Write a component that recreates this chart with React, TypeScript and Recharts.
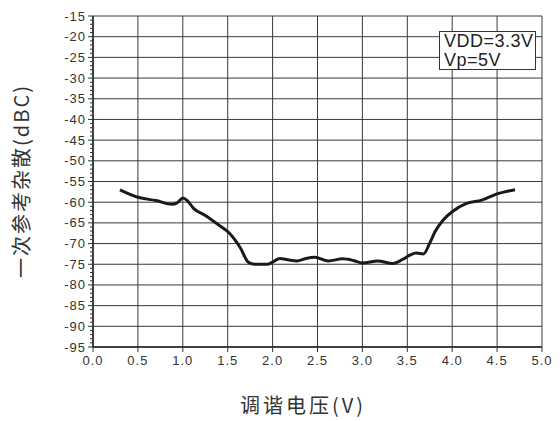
import { CartesianGrid, Line, LineChart, XAxis, YAxis } from "recharts";

const voltage = [
  0.3, 0.5, 0.7, 0.88, 0.94, 1.0, 1.05, 1.12, 1.25, 1.4, 1.52, 1.64, 1.73, 1.8,
  1.94, 2.0, 2.08, 2.17, 2.27, 2.37, 2.47, 2.62, 2.78, 2.9, 3.0, 3.17, 3.34,
  3.45, 3.53, 3.6, 3.68, 3.75, 3.81, 3.9, 4.0, 4.16, 4.33, 4.5, 4.7,
];
const spur = [
  -57, -58.8, -59.6, -60.5, -60.1, -59, -59.6, -61.5, -63.2, -65.5, -67.5,
  -71, -74.5, -75, -75, -74.5, -73.6, -73.9, -74.2, -73.6, -73.3, -74.2, -73.7,
  -74.1, -74.7, -74.2, -74.8, -73.8, -72.8, -72.3, -72.5, -69.9, -67.1, -64.3,
  -62.3, -60.3, -59.5, -58, -57,
];
const xTicks = [0, 0.5, 1, 1.5, 2, 2.5, 3, 3.5, 4, 4.5, 5];
const yMajor = [
  -95, -90, -85, -80, -75, -70, -65, -60, -55, -50, -45, -40, -35, -30, -25,
  -20, -15,
];
const yAll = Array.from({ length: 81 }, (_, i) => -95 + i);

const data = voltage.map((v, i) => ({ v, db: spur[i] }));

const ink = "#333";
const tickFont = { fontFamily: "'Liberation Sans', Arial, sans-serif", fontSize: 13, letterSpacing: 1 };

function YTick(props: any) {
  const { x, y, payload } = props;
  const major = payload.value % 5 === 0;
  return (
    <g>
      <line x1={major ? x + 2 : x + 4} x2={x + 7} y1={y} y2={y} stroke={ink} strokeWidth={1} />
      {major && (
        <text x={x} y={y} dy="0.35em" textAnchor="end" fill={ink} style={tickFont}>
          {payload.value}
        </text>
      )}
    </g>
  );
}

export default function App() {
  return (
    <div style={{ position: "absolute", left: 0, top: 0, width: 560, height: 421, background: "#fff" }}>
      <LineChart width={560} height={421} data={data} margin={{ top: 16, right: 18, bottom: 0, left: 0 }}>
        <CartesianGrid
          stroke="#3a3a3a"
          strokeWidth={1}
          horizontalValues={yMajor}
          verticalValues={xTicks}
        />
        <XAxis
          dataKey="v"
          type="number"
          domain={[0, 5]}
          ticks={xTicks}
          tickFormatter={(v: number) => v.toFixed(1)}
          height={74}
          tickSize={5}
          tickMargin={4}
          stroke={ink}
          tick={{ fill: ink, ...tickFont }}
          axisLine={{ stroke: "#222", strokeWidth: 1.5 }}
        />
        <YAxis
          type="number"
          domain={[-95, -15]}
          ticks={yAll}
          interval={0}
          width={93}
          tickSize={5}
          tickMargin={2}
          tickLine={false}
          tick={<YTick />}
          axisLine={{ stroke: "#222", strokeWidth: 1.5 }}
        />
        <Line
          type="monotone"
          dataKey="db"
          stroke="#1a1a1a"
          strokeWidth={3}
          dot={false}
          isAnimationActive={false}
        />
      </LineChart>
      <div
        style={{
          position: "absolute",
          left: 439,
          top: 31,
          width: 97,
          height: 39,
          border: "1px solid #333",
          background: "#fff",
          fontFamily: "'Liberation Sans', Arial, sans-serif",
          fontSize: 18,
          lineHeight: "19px",
          color: "#222",
          paddingLeft: 4,
          boxSizing: "border-box",
          letterSpacing: 0.5,
        }}
      >
        <div>VDD=3.3V</div>
        <div>Vp=5V</div>
      </div>
      <div
        style={{
          position: "absolute",
          left: 21,
          top: 181,
          transform: "translate(-50%, -50%) rotate(-90deg)",
          whiteSpace: "nowrap",
          fontFamily: "'Noto Sans CJK SC', sans-serif",
          fontSize: 20,
          lineHeight: "22px",
          letterSpacing: 2,
          color: ink,
        }}
      >
        一次参考杂散(dBC)
      </div>
      <div
        style={{
          position: "absolute",
          left: 303,
          top: 405,
          transform: "translate(-50%, -50%)",
          whiteSpace: "nowrap",
          fontFamily: "'Noto Sans CJK SC', sans-serif",
          fontSize: 20,
          lineHeight: "22px",
          letterSpacing: 3,
          color: ink,
        }}
      >
        调谐电压(V)
      </div>
    </div>
  );
}
